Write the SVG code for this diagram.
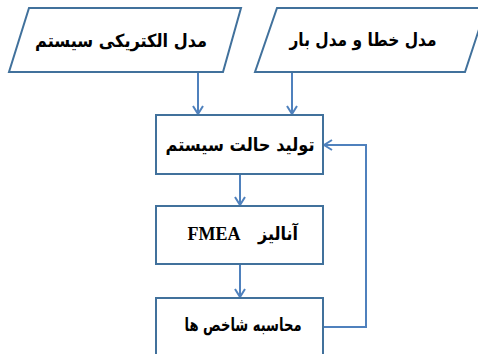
<svg xmlns="http://www.w3.org/2000/svg" width="478" height="354" viewBox="0 0 478 354">
<defs>
<style>
.shape{fill:#ffffff;stroke:#41719C;stroke-width:2}
.conn{fill:none;stroke:#4F81BD;stroke-width:2}
.fa{font-family:"DejaVu Sans","Noto Sans",sans-serif;font-weight:bold;font-size:18px;fill:#000;text-anchor:middle}
.en{font-family:"Liberation Serif",serif;font-weight:bold;font-size:18px;fill:#000;text-anchor:middle}
</style>
<marker id="arr" viewBox="0 0 12 12" refX="11" refY="6" markerWidth="12" markerHeight="12" markerUnits="userSpaceOnUse" orient="auto">
<polyline points="3,1 11,6 3,11" fill="none" stroke="#4F81BD" stroke-width="2"/>
</marker>
</defs>
<rect width="478" height="354" fill="#ffffff"/>
<g id="connectors">
<line class="conn" x1="198" y1="72" x2="198" y2="114" marker-end="url(#arr)"/>
<line class="conn" x1="292" y1="72" x2="292" y2="114" marker-end="url(#arr)"/>
<line class="conn" x1="240" y1="174" x2="240" y2="205" marker-end="url(#arr)"/>
<line class="conn" x1="240" y1="264" x2="240" y2="297" marker-end="url(#arr)"/>
<polyline class="conn" points="323,327 366,327 366,145 324,145" marker-end="url(#arr)"/>
</g>
<g id="node-electric">
<polygon class="shape" points="29,8 241,8 223,72 9,72"/>
<text class="fa" x="121" y="47" textLength="172" lengthAdjust="spacingAndGlyphs">مدل الکتریکی سیستم</text>
</g>
<g id="node-fault">
<polygon class="shape" points="277,8 486,8 465,72 255,72"/>
<text class="fa" x="363" y="46" textLength="147" lengthAdjust="spacingAndGlyphs">مدل خطا و مدل بار</text>
</g>
<g id="node-state">
<rect class="shape" x="156" y="115" width="167" height="59"/>
<text class="fa" x="240" y="151" textLength="149" lengthAdjust="spacingAndGlyphs">تولید حالت سیستم</text>
</g>
<g id="node-fmea">
<rect class="shape" x="156" y="206" width="167" height="58"/>
<text class="en" x="214" y="240">FMEA</text>
<text class="fa" x="278" y="240" textLength="40" lengthAdjust="spacingAndGlyphs">آنالیز</text>
</g>
<g id="node-index">
<rect class="shape" x="156" y="298" width="167" height="70"/>
<text class="fa" x="243" y="331" textLength="117" lengthAdjust="spacingAndGlyphs">محاسبه شاخص ها</text>
</g>
</svg>
